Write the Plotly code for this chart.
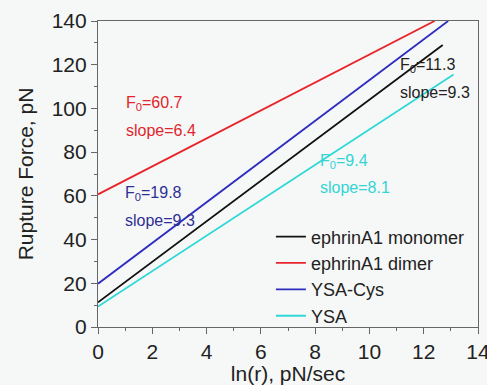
import plotly.graph_objects as go

# Series (line endpoints)
series_names = ["ephrinA1 monomer", "ephrinA1 dimer", "YSA-Cys", "YSA"]
monomer_x = [0, 12.7]
monomer_y = [11.3, 129.0]
dimer_x = [0, 12.4]
dimer_y = [60.7, 140.0]
ysacys_x = [0, 12.9]
ysacys_y = [19.8, 140.0]
ysa_x = [0, 13.1]
ysa_y = [9.4, 115.5]

line_colors = ["#111111", "#e8242b", "#2c2cc0", "#2fd8d8"]
text_colors = ["#222222", "#e0262c", "#2e2f96", "#33d4d4"]

# Annotation texts and their anchors (data coords)
ann_f0 = ["F<sub>0</sub>=11.3", "F<sub>0</sub>=60.7", "F<sub>0</sub>=19.8", "F<sub>0</sub>=9.4"]
ann_slope = ["slope=9.3", "slope=6.4", "slope=9.3", "slope=8.1"]
ann_x = [11.05, 0.95, 0.92, 8.1]
ann_f0_y = [119.6, 102.3, 61.0, 75.5]
ann_slope_y = [107.5, 90.0, 48.8, 64.0]

xs = [monomer_x, dimer_x, ysacys_x, ysa_x]
ys = [monomer_y, dimer_y, ysacys_y, ysa_y]

FONT = "Arial, Liberation Sans, Helvetica, sans-serif"

fig = go.Figure()
for name, x, y, c in zip(series_names, xs, ys, line_colors):
    fig.add_trace(go.Scatter(x=x, y=y, mode="lines", name=name,
                             line=dict(color=c, width=1.8)))

for i in range(4):
    for txt, yy in ((ann_f0[i], ann_f0_y[i]), (ann_slope[i], ann_slope_y[i])):
        fig.add_annotation(x=ann_x[i], y=yy, text=txt, showarrow=False,
                           xanchor="left", yanchor="middle",
                           font=dict(family=FONT, size=16, color=text_colors[i]))

axis_common = dict(showgrid=False, zeroline=False, showline=True, mirror=True,
                   automargin=False, ticklabeloverflow="allow",
                   linecolor="#666666", linewidth=1.2, ticks="outside",
                   ticklen=6, tickwidth=1.2, tickcolor="#666666",
                   tickfont=dict(family=FONT, size=21, color="#222222"))

fig.update_xaxes(range=[0, 14], dtick=2, tick0=0,
                 minor=dict(dtick=1, ticks="outside", ticklen=3, tickcolor="#666666"),
                 title=dict(text="ln(r), pN/sec", font=dict(family=FONT, size=21, color="#222222"),
                            standoff=2),
                 **axis_common)
fig.update_yaxes(range=[0, 140], dtick=20, tick0=0,
                 minor=dict(dtick=10, ticks="outside", ticklen=3, tickcolor="#666666"),
                 title=dict(text="Rupture Force, pN", font=dict(family=FONT, size=21, color="#222222"),
                            standoff=12),
                 **axis_common)

fig.update_layout(
    width=487, height=385,
    margin=dict(l=98, r=9, t=21, b=58),
    paper_bgcolor="#f6f8f7", plot_bgcolor="#f6f8f7",
    showlegend=True,
    legend=dict(x=0.455, y=0.355, xanchor="left", yanchor="top",
                bgcolor="rgba(0,0,0,0)", borderwidth=0,
                font=dict(family=FONT, size=18, color="#222222"),
                tracegroupgap=0, itemwidth=30),
)

fig.write_html("out.html")
